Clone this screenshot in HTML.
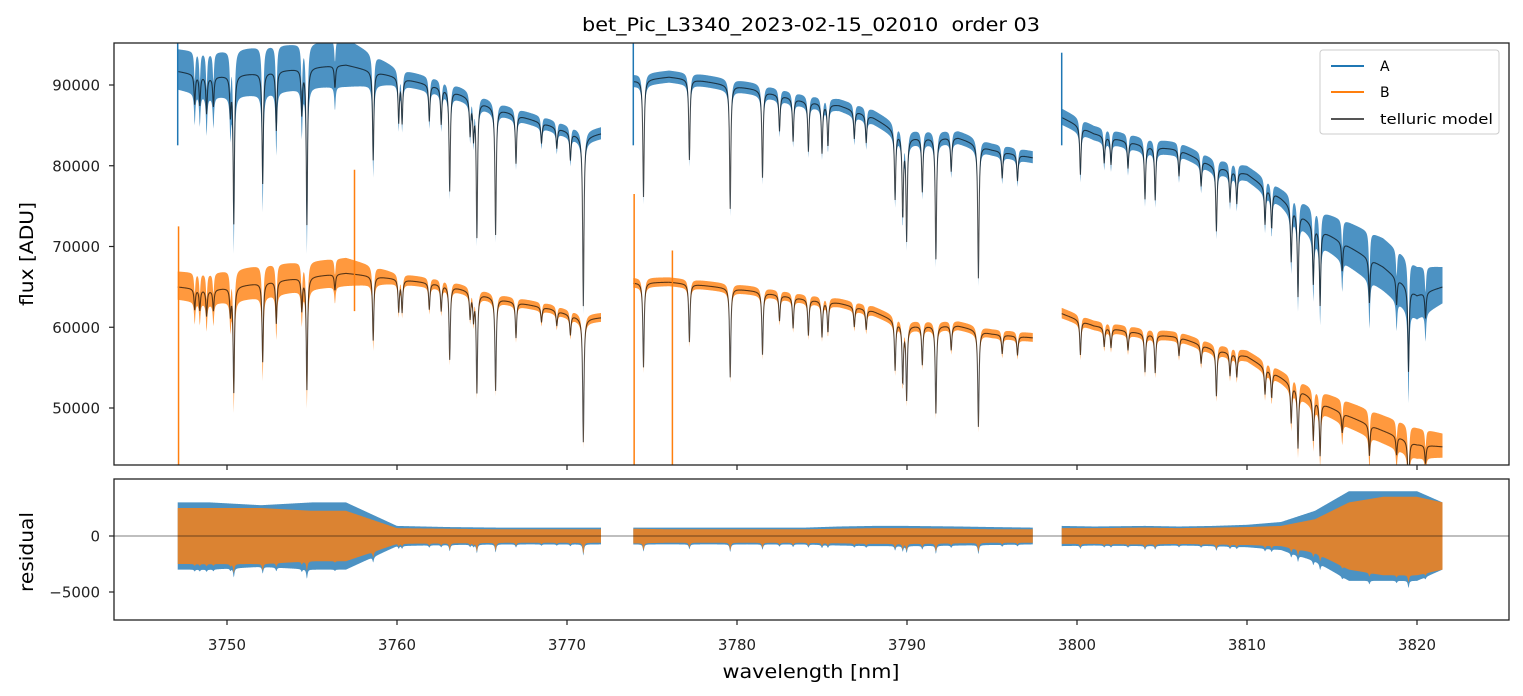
<!DOCTYPE html>
<html><head><meta charset="utf-8"><style>
body{margin:0;background:#fff}
svg{display:block;font-family:"DejaVu Sans","Liberation Sans",sans-serif}
</style></head><body>
<svg id="chart" width="1523" height="696" viewBox="0 0 1523 696">
<defs>
<clipPath id="clipTop"><rect x="114" y="43" width="1395" height="422"/></clipPath>
<clipPath id="clipBot"><rect x="114" y="479" width="1395" height="141"/></clipPath>
</defs>
<text x="811" y="31" font-size="19" text-anchor="middle" textLength="458" lengthAdjust="spacingAndGlyphs">bet_Pic_L3340_2023-02-15_02010&#160; order 03</text>
<g id="topData" clip-path="url(#clipTop)"></g>
<g id="botData" clip-path="url(#clipBot)"></g>
<g id="axes"></g>
<text x="811" y="678" font-size="19" text-anchor="middle" textLength="177" lengthAdjust="spacingAndGlyphs">wavelength [nm]</text>
<text transform="translate(33,254) rotate(-90)" font-size="19" text-anchor="middle" textLength="104" lengthAdjust="spacingAndGlyphs">flux [ADU]</text>
<text transform="translate(33,552) rotate(-90)" font-size="19" text-anchor="middle" textLength="80" lengthAdjust="spacingAndGlyphs">residual</text>
<g>
<rect x="1320" y="50" width="179" height="84" rx="3" fill="#fff" fill-opacity="0.8" stroke="#ccc"/>
<line x1="1331" y1="66" x2="1364" y2="66" stroke="#1f77b4" stroke-width="2"/>
<text x="1380" y="71" font-size="14">A</text>
<line x1="1331" y1="92" x2="1364" y2="92" stroke="#ff7f0e" stroke-width="2"/>
<text x="1380" y="97" font-size="14">B</text>
<line x1="1331" y1="119" x2="1364" y2="119" stroke="#555" stroke-width="2"/>
<text x="1380" y="124" font-size="14" textLength="113" lengthAdjust="spacingAndGlyphs">telluric model</text>
</g>
</svg>
<script>
// ---- data ----
const segments = [[3747.1,3772.0],[3773.9,3797.4],[3799.1,3821.5]];
const contWl = [3747.1,3749,3752,3755,3757,3760,3763,3766,3769,3771,3772,
                3773.9,3776,3778,3781,3784,3786,3788,3790,3793,3795,3797.4,
                3799.1,3801,3804,3806,3808,3810,3812,3814,3816,3818,3820,3821.5];
const contA = [91700,91000,91500,92200,92500,91000,89500,87000,85000,83500,84000,
               90500,91000,90500,89500,88000,87500,86000,83500,83500,82000,81000,
               86000,84000,82500,82000,80000,79000,76000,72500,70000,67500,64000,65000];
const contB = [65000,64600,65500,66300,66700,66000,65200,63500,62300,61000,61200,
               65500,65600,65200,64500,63500,63000,62000,60200,60200,59200,58700,
               61700,60200,59200,58800,57300,56400,53800,51000,49000,47200,45500,45200];
const noiseA = [5000,5500,6000,5500,6000,2000,1800,1500,1500,1500,1500,
                1500,1500,1500,1500,1500,1500,1800,1800,1600,1500,1500,
                2000,1800,1800,1700,1800,1900,2200,4000,5500,6500,6500,4500];
const noiseB = [3500,3800,4000,3500,3500,1300,1200,1100,1100,1100,1100,
                1200,1100,1100,1100,1100,1100,1200,1200,1100,1100,1100,
                1300,1200,1200,1200,1300,1400,1600,2500,3200,3500,3800,3000];
const lineCenters = [3748.1,3748.4,3748.8,3749.2,3750.2,3750.4,3752.1,3752.9,3754.4,3754.7,3756.35,3758.6,3760.1,3760.3,3761.9,3762.6,3763.1,3764.3,3764.5,3764.7,3765.8,3767.0,3768.5,3769.4,3770.2,3770.96,
  3774.5,3777.2,3779.6,3781.5,3782.5,3783.3,3784.2,3785.0,3785.35,3786.9,3787.6,3789.3,3789.75,3789.98,3790.9,3791.7,3792.6,3794.2,3795.6,3796.5,
  3800.2,3801.6,3802.0,3803.0,3804.0,3804.6,3806.0,3807.3,3808.2,3809.0,3809.4,3811.06,3811.45,3812.6,3813.0,3813.9,3814.3,3815.6,3817.2,3818.8,3819.5,3820.5];
const lineDepths = [0.04,0.04,0.05,0.04,0.05,0.20,0.15,0.08,0.06,0.21,0.03,0.12,0.06,0.06,0.05,0.05,0.14,0.05,0.05,0.19,0.18,0.07,0.03,0.03,0.04,0.25,
  0.16,0.11,0.17,0.12,0.05,0.06,0.07,0.07,0.06,0.04,0.04,0.10,0.12,0.15,0.08,0.18,0.05,0.20,0.04,0.04,
  0.07,0.04,0.04,0.04,0.08,0.08,0.04,0.04,0.10,0.05,0.05,0.06,0.06,0.09,0.14,0.10,0.13,0.05,0.08,0.05,0.16,0.05];
const residAmpA = [6000,6000,5500,6000,6000,1800,1600,1500,1500,1500,1500,
                   1500,1500,1500,1500,1500,1700,1800,1800,1700,1600,1500,
                   1800,1700,1800,1700,1800,2000,2500,4500,8000,8000,8000,6000];
const residAmpB = [5000,5000,5000,4500,4500,1400,1300,1200,1200,1200,1200,
                   1300,1200,1200,1200,1200,1300,1400,1400,1300,1200,1200,
                   1400,1400,1500,1400,1500,1600,1800,3000,6000,7000,7000,6000];
const spikeWlA = [3747.1,3773.9,3799.1];
const spikeTopA = [95200,95200,94000];
const spikeWlB = [3747.15,3757.5,3773.95,3776.2];
const spikeTopB = [72500,79500,76500,69500];
const spikeBotB = [42900,62000,42900,42900];
const xTicks = [3750,3760,3770,3780,3790,3800,3810,3820];
const yTicks = [50000,60000,70000,80000,90000];
const rTicks = [0,-5000];

// ---- scales ----
const X = w => 227 + (w-3750)*17;
const Y = f => 85 + (90000-f)/10000*80.75;
const R = r => 536 - r/5000*56;
const NS = "http://www.w3.org/2000/svg";
function interp(xs, ys, x){
  if(x<=xs[0]) return ys[0];
  for(let i=1;i<xs.length;i++){ if(x<=xs[i]){ const t=(x-xs[i-1])/(xs[i]-xs[i-1]); return ys[i-1]+t*(ys[i]-ys[i-1]); } }
  return ys[ys.length-1];
}
function absorb(w){
  let s=0; const g=0.045;
  for(let i=0;i<lineCenters.length;i++){ const d=w-lineCenters[i]; s+=lineDepths[i]*g*g/(d*d+g*g); }
  return Math.max(0.2,1-s);
}
function mk(tag, attrs, parent){ const e=document.createElementNS(NS,tag); for(const k in attrs) e.setAttribute(k,attrs[k]); parent.appendChild(e); return e; }

const gTop = document.getElementById('topData');
const gBot = document.getElementById('botData');
const gAxes = document.getElementById('axes');

segments.forEach((seg, si) => {
  const ws=[]; for(let w=seg[0]; w<=seg[1]+1e-9; w+=0.02) ws.push(w);
  [[contA,noiseA,'#1f77b4','a'],[contB,noiseB,'#ff7f0e','b']].forEach(([cont,noise,col,nm])=>{
    let up='', lo='';
    ws.forEach(w=>{ const m=interp(contWl,cont,w)*absorb(w); const a=interp(contWl,noise,w);
      up += X(w).toFixed(2)+','+Y(m+a*0.55).toFixed(2)+' ';
      lo = X(w).toFixed(2)+','+Y(m-a*0.45*(1+(1-absorb(w))*2)).toFixed(2)+' '+lo; });
    const p = mk('polygon',{points:up+lo, fill:col, 'fill-opacity':'0.8'}, gTop);
    
    
  });
  [contA,contB].forEach((cont,k)=>{
    const pts = ws.map(w=>X(w).toFixed(2)+','+Y(interp(contWl,cont,w)*absorb(w)).toFixed(2)).join(' ');
    const l = mk('polyline',{points:pts, fill:'none', stroke:'#000', 'stroke-opacity':'0.65', 'stroke-width':'1.1'}, gTop);
    
    
  });
  [[residAmpA,'#1f77b4','a'],[residAmpB,'#ff7f0e','b']].forEach(([amp,col,nm])=>{
    let up='', lo='';
    ws.forEach(w=>{ const a=interp(contWl,amp,w); const extra=(1-absorb(w))*4000;
      up += X(w).toFixed(2)+','+R(a*0.5).toFixed(2)+' ';
      lo = X(w).toFixed(2)+','+R(-a*0.5-extra).toFixed(2)+' '+lo; });
    const p = mk('polygon',{points:up+lo, fill:col, 'fill-opacity':'0.8'}, gBot);
    
    
  });
});
spikeWlA.forEach((w,i)=>{
  const s = mk('line',{x1:X(w),x2:X(w),y1:Y(spikeTopA[i]),y2:Y(contA[0]*0.9),stroke:'#1f77b4','stroke-width':'1.5'}, gTop);
  
  
});
spikeWlB.forEach((w,i)=>{
  const s = mk('line',{x1:X(w),x2:X(w),y1:Y(spikeTopB[i]),y2:Y(spikeBotB[i]),stroke:'#ff7f0e','stroke-width':'1.5'}, gTop);
  
  
});
const zl = mk('line',{x1:114,x2:1509,y1:R(0),y2:R(0),stroke:'#000','stroke-width':'0.6'}, gBot);



[[43,465,'top-axes-frame'],[479,620,'residual-axes-frame']].forEach(([y0,y1,n])=>{
  const r = mk('rect',{x:114,y:y0,width:1395,height:y1-y0,fill:'none',stroke:'#222','stroke-width':'1.3'}, gAxes);
  
  
});
xTicks.forEach(t=>{
  mk('line',{x1:X(t),x2:X(t),y1:465,y2:470,stroke:'#222','stroke-width':'1.2'}, gAxes);
  mk('line',{x1:X(t),x2:X(t),y1:620,y2:625,stroke:'#222','stroke-width':'1.2'}, gAxes);
  const tx = mk('text',{x:X(t),y:650,'font-size':'15','text-anchor':'middle',fill:'#222'}, gAxes);
  tx.textContent = t;
  
  
});
yTicks.forEach(t=>{
  mk('line',{x1:109,x2:114,y1:Y(t),y2:Y(t),stroke:'#222','stroke-width':'1.2'}, gAxes);
  const tx = mk('text',{x:100,y:Y(t)+5.5,'font-size':'15','text-anchor':'end',fill:'#222'}, gAxes);
  tx.textContent = t;
  
  
});
rTicks.forEach(t=>{
  mk('line',{x1:109,x2:114,y1:R(t),y2:R(t),stroke:'#222','stroke-width':'1.2'}, gAxes);
  const tx = mk('text',{x:100,y:R(t)+5.5,'font-size':'15','text-anchor':'end',fill:'#222'}, gAxes);
  tx.textContent = t===0 ? '0' : '\u22125000';
  
  
});
</script>
</body></html>
